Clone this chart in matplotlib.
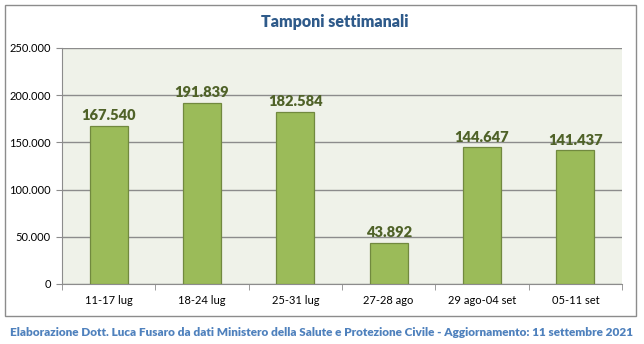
import matplotlib.pyplot as plt
from matplotlib.patches import Rectangle
from matplotlib.ticker import FuncFormatter, FixedLocator
import numpy as np

plt.rcParams['font.family'] = ['Lato', 'DejaVu Sans']

# data
weeks = ['11-17 lug', '18-24 lug', '25-31 lug', '27-28 ago', '29 ago-04 set', '05-11 set']
tamponi = [167540, 191839, 182584, 43892, 144647, 141437]

def fmt_it(v, pos=None):
    return '{:,.0f}'.format(v).replace(',', '.')

fig = plt.figure(figsize=(6.44, 3.44), dpi=100)
fig.patch.set_facecolor('white')

# outer chart border
fig.patches.append(Rectangle((5/644, 28/344), 631/644, 311/344, transform=fig.transFigure,
                             fill=False, edgecolor='#8c8c8c', lw=1.0))

ax = fig.add_axes([62/644, 60/344, 560/644, 236/344])
ax.set_facecolor('#eff2e9')

x = np.arange(len(weeks))
ax.bar(x, tamponi, width=0.41, color='#9bbb59', edgecolor='#71893f', lw=0.9, zorder=3)
for xi, v in zip(x, tamponi):
    ax.text(xi, v + 4000, fmt_it(v), ha='center', va='bottom', fontsize=10.5,
            fontweight='heavy', color='#4f6228', zorder=4)

ax.set_xlim(-0.5, len(weeks) - 0.5)
ax.set_ylim(0, 250000)
ax.yaxis.set_major_locator(FixedLocator(np.arange(0, 250001, 50000)))
ax.yaxis.set_major_formatter(FuncFormatter(fmt_it))
ax.grid(axis='y', color='#8c8c8c', lw=1.0, zorder=1)

ax.set_xticks(x)
ax.set_xticklabels(weeks)
ax.set_xticks(np.arange(-0.5, len(weeks)), minor=True)
ax.tick_params(axis='x', which='major', length=0, pad=8, labelsize=8, colors='black')
ax.tick_params(axis='x', which='minor', length=4, color='#8c8c8c', direction='out')
ax.tick_params(axis='y', length=4, color='#8c8c8c', direction='out', labelsize=8, pad=4)

for s in ['top', 'right']:
    ax.spines[s].set_visible(False)
ax.spines['left'].set_color('#8c8c8c')
ax.spines['bottom'].set_color('#8c8c8c')

fig.text(335/644, 1 - 22/344, 'Tamponi settimanali', ha='center', va='center',
         fontsize=11.5, fontweight='heavy', color='#2e5a8a')
fig.text(322/644, 1 - 333/344,
         'Elaborazione Dott. Luca Fusaro da dati Ministero della Salute e Protezione Civile - Aggiornamento: 11 settembre 2021',
         ha='center', va='center', fontsize=8.45, fontweight='heavy', color='#4f81bd')

fig.savefig('out.png', dpi=100)
